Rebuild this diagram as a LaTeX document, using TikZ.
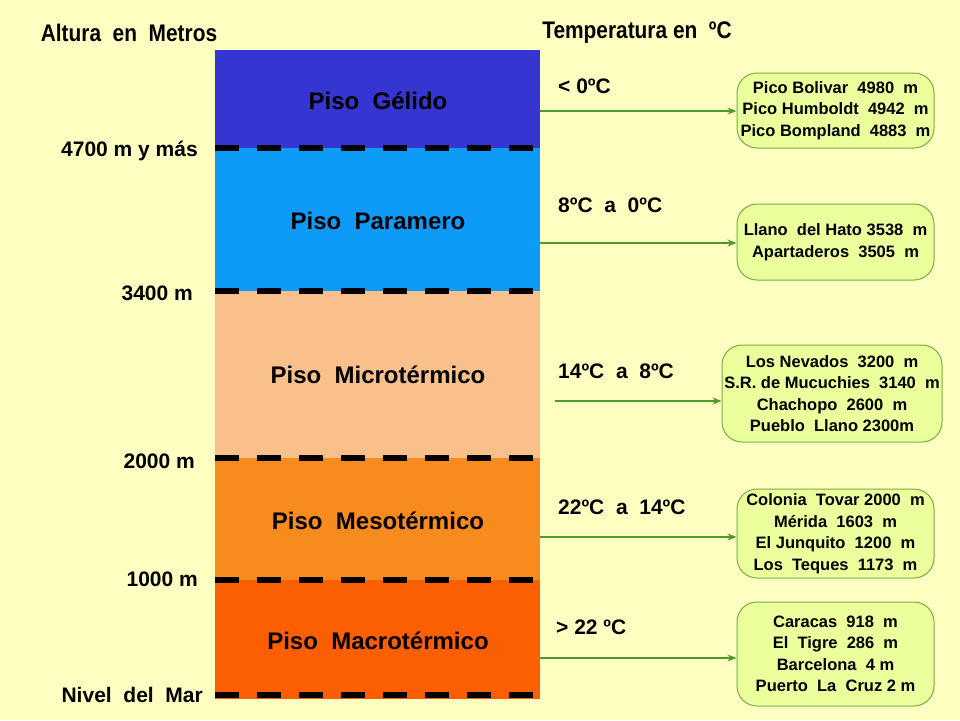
\documentclass[tikz,border=0pt]{standalone}
\usepackage{fontspec}
\setmainfont{Liberation Sans}
\newfontfamily\narrowfont[FakeStretch=0.87]{Liberation Sans}
\usetikzlibrary{arrows.meta}
\definecolor{bg}{HTML}{FFFFC2}
\definecolor{cGel}{HTML}{3535D2}
\definecolor{cPar}{HTML}{0D9BF7}
\definecolor{cMic}{HTML}{F9C08C}
\definecolor{cMes}{HTML}{F88B1E}
\definecolor{cMac}{HTML}{FC5E02}
\definecolor{boxfill}{HTML}{EBFF9C}
\definecolor{boxline}{HTML}{74B040}
\definecolor{arr}{HTML}{4F9A2A}
\begin{document}
\begin{tikzpicture}[x=1pt,y=-1pt,
  bandlabel/.style={font=\bfseries\fontsize{24}{28}\selectfont,inner sep=0pt},
  divline/.style={line width=6.5pt,black,dash pattern=on 24pt off 18pt},
  hlabel/.style={font=\bfseries\fontsize{21}{24}\selectfont,inner sep=0pt},
  tlabel/.style={font=\bfseries\fontsize{21}{24}\selectfont,inner sep=0pt,anchor=west},
  headlabel/.style={font=\narrowfont\bfseries\fontsize{24}{26}\selectfont,inner sep=0pt},
  site/.style={draw=boxline,fill=boxfill,line width=1pt,rounded corners=20pt,align=center,
    font=\bfseries\fontsize{16.5}{21.5}\selectfont,inner sep=0pt},
  conn/.style={draw=arr,line width=1.2pt,-{Stealth[length=9pt,width=7pt]}}]
\useasboundingbox[fill=bg] (0,0) rectangle (960,720);
% bands
\fill[cGel] (215,50) rectangle (540,148);
\fill[cPar] (215,148) rectangle (540,291);
\fill[cMic] (215,291) rectangle (540,458);
\fill[cMes] (215,458) rectangle (540,580);
\fill[cMac] (215,580) rectangle (540,699);
\node[bandlabel] (p1) at (378,101) {Piso~ Gélido};
\node[bandlabel] (p2) at (378,221) {Piso~ Paramero};
\node[bandlabel] (p3) at (378,375) {Piso~ Microtérmico};
\node[bandlabel] (p4) at (378,521) {Piso~ Mesotérmico};
\node[bandlabel] (p5) at (378,641) {Piso~ Macrotérmico};
% dashed dividers
\foreach \yy in {148,291,458,580,695}{
  \draw[divline] (215,\yy) -- (540,\yy);
}
% headers
\node[headlabel] (h1) at (129,33) {Altura~ en~ Metros};
\node[headlabel] (h2) at (637,33) {Temperatura en~ ºC};
% altitude labels
\node[hlabel,anchor=east] (l1) at (198,151) {4700 m y más};
\node[hlabel,anchor=east] (l2) at (193,293) {3400 m};
\node[hlabel,anchor=east] (l3) at (195,461) {2000 m};
\node[hlabel,anchor=east] (l4) at (198,579) {1000 m};
\node[hlabel,anchor=east] (l5) at (203,695) {Nivel~ del~ Mar};
% temperature labels
\node[tlabel] (t1) at (558,86) {< 0ºC};
\node[tlabel] (t2) at (558,205) {8ºC~ a~ 0ºC};
\node[tlabel] (t3) at (558,371) {14ºC~ a~ 8ºC};
\node[tlabel] (t4) at (558,507) {22ºC~ a~ 14ºC};
\node[tlabel] (t5) at (556,627) {> 22 ºC};
% site boxes
\node[site,minimum width=197pt,minimum height=75pt] (b1) at (835.5,110.5)
  {Pico Bolivar~ 4980~ m\\Pico Humboldt~ 4942~ m\\Pico Bompland~ 4883~ m};
\node[site,minimum width=197pt,minimum height=76pt] (b2) at (835.5,242)
  {Llano~ del Hato 3538~ m\\Apartaderos~ 3505~ m};
\node[site,minimum width=220pt,minimum height=97pt] (b3) at (832,393.5)
  {Los Nevados~ 3200~ m\\S.R. de Mucuchies~ 3140~ m\\Chachopo~ 2600~ m\\Pueblo~ Llano 2300m};
\node[site,minimum width=197pt,minimum height=89pt] (b4) at (835.5,533.5)
  {Colonia~ Tovar 2000~ m\\Mérida~ 1603~ m\\El Junquito~ 1200~ m\\Los~ Teques~ 1173~ m};
\node[site,minimum width=197pt,minimum height=104pt] (b5) at (835.5,654)
  {Caracas~ 918~ m\\El~ Tigre~ 286~ m\\Barcelona~ 4 m\\Puerto~ La~ Cruz 2 m};
% connectors
\coordinate (s1) at (540,111);
\coordinate (s2) at (540,243);
\coordinate (s3) at (555,401);
\coordinate (s4) at (540,537);
\coordinate (s5) at (540,658);
\draw[conn] (s1) -- (s1 -| b1.west);
\draw[conn] (s2) -- (s2 -| b2.west);
\draw[conn] (s3) -- (s3 -| b3.west);
\draw[conn] (s4) -- (s4 -| b4.west);
\draw[conn] (s5) -- (s5 -| b5.west);
\end{tikzpicture}
\end{document}
